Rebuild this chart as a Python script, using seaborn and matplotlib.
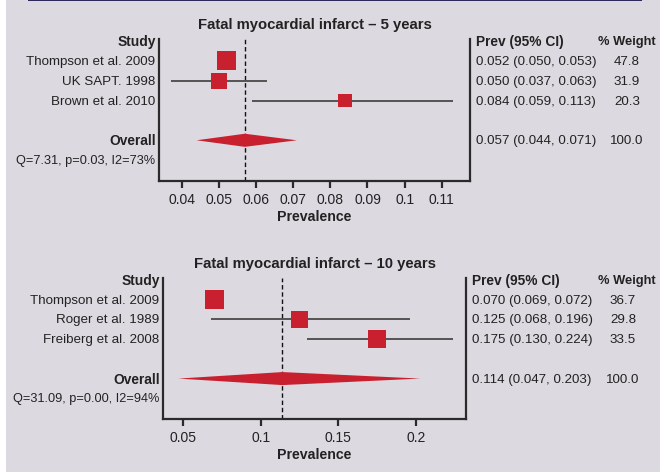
import numpy as np
import pandas as pd
import matplotlib
matplotlib.use("Agg")
import matplotlib.pyplot as plt
import matplotlib.transforms as mtransforms
from matplotlib.patches import Rectangle
import seaborn as sns

# ---------------- data ----------------
title_5 = "Fatal myocardial infarct \u2013 5 years"
studies_5 = ["Thompson et al. 2009", "UK SAPT. 1998", "Brown et al. 2010"]
prev_5 = [0.052, 0.050, 0.084]
lo_5 = [0.050, 0.037, 0.059]
hi_5 = [0.053, 0.063, 0.113]
weight_5 = [47.8, 31.9, 20.3]
overall_5 = [0.057, 0.044, 0.071]
stats_5 = "Q=7.31, p=0.03, I2=73%"
ticks_5 = [0.04, 0.05, 0.06, 0.07, 0.08, 0.09, 0.1, 0.11]
ticklabels_5 = ["0.04", "0.05", "0.06", "0.07", "0.08", "0.09", "0.1", "0.11"]

title_10 = "Fatal myocardial infarct \u2013 10 years"
studies_10 = ["Thompson et al. 2009", "Roger et al. 1989", "Freiberg et al. 2008"]
prev_10 = [0.070, 0.125, 0.175]
lo_10 = [0.069, 0.068, 0.130]
hi_10 = [0.072, 0.196, 0.224]
weight_10 = [36.7, 29.8, 33.5]
overall_10 = [0.114, 0.047, 0.203]
stats_10 = "Q=31.09, p=0.00, I2=94%"
ticks_10 = [0.05, 0.1, 0.15, 0.2]
ticklabels_10 = ["0.05", "0.1", "0.15", "0.2"]

# ---------------- style ----------------
sns.set_theme(style="white")
FONT = ["Liberation Sans", "DejaVu Sans"]
plt.rcParams["font.family"] = FONT
BG = "#dcd9e0"
RED = "#c8202e"
DARK = "#2a2a2a"
TXT = "#222222"

W, H = 660, 477
fig = plt.figure(figsize=(W / 100, H / 100), dpi=100)
fig.patch.set_facecolor("white")
# background panel and top rule
fig.add_artist(Rectangle((6 / W, 4 / H), (W - 6) / W, (H - 4) / H,
                         transform=fig.transFigure, facecolor=BG,
                         edgecolor="none", zorder=-10))
fig.add_artist(Rectangle((28 / W, 1 - 1.6 / H), (642 - 28) / W, 1.6 / H,
                         transform=fig.transFigure, facecolor="#2e2a5c",
                         edgecolor="none", zorder=-9))

FS = 9.6


def panel(rect_px, xlim, title, studies, prev, lo, hi, weight, overall,
          stats, ticks, ticklabels):
    x0, y0, x1, y1 = rect_px
    ax = fig.add_axes([x0 / W, 1 - y1 / H, (x1 - x0) / W, (y1 - y0) / H])
    ax.set_facecolor("none")
    n = len(studies)
    rows = list(range(1, n + 1))
    over_row = n + 2
    stats_row = n + 3
    df = pd.DataFrame({"study": studies, "prev": prev, "lo": lo, "hi": hi,
                       "weight": weight, "row": rows})
    # CI lines
    ax.hlines(df["row"], df["lo"], df["hi"], color="#4a4a4a", lw=1.3, zorder=2)
    # squares sized by relative weight
    wrel = df["weight"] / df["weight"].max()
    side_px = 9.5 + 9.5 * wrel
    side_pt = side_px * 0.72
    sns.scatterplot(data=df, x="prev", y="row", marker="s", color=RED,
                    s=(side_pt ** 2).to_numpy(), linewidth=0, ax=ax,
                    zorder=3, legend=False)
    # overall diamond
    est, olo, ohi = overall
    hh = 0.33
    ax.fill([olo, est, ohi, est], [over_row, over_row - hh, over_row, over_row + hh],
            color=RED, lw=0, zorder=3)
    ax.axvline(est, color="#111111", lw=1.0, ls=(0, (3.2, 2.0)), zorder=1)

    ax.set_xlim(*xlim)
    ax.set_ylim(7.05, -0.1)
    ax.set_yticks([])
    ax.set_xticks(ticks)
    ax.set_xticklabels(ticklabels)
    ax.set_xlabel("Prevalence", fontsize=FS + 0.6, fontweight="bold",
                  color=TXT, labelpad=2)
    ax.set_ylabel("")
    ax.tick_params(axis="x", direction="out", length=5, width=1.6,
                   color=DARK, labelsize=FS + 0.4, labelcolor=TXT, pad=3,
                   bottom=True)
    for s in ["left", "bottom", "right"]:
        ax.spines[s].set_visible(True)
        ax.spines[s].set_color(DARK)
        ax.spines[s].set_linewidth(1.6)
    ax.spines["top"].set_visible(False)

    ax.set_title(title, fontsize=FS + 1.1, fontweight="bold", color=TXT, pad=8)

    tr = mtransforms.blended_transform_factory(fig.transFigure, ax.transData)
    lx = (x0 - 3.5) / W
    px = (x1 + 5.5) / W
    wx = (x1 + 157) / W
    ax.text(lx, 0.0, "Study", transform=tr, ha="right", va="center",
            fontsize=FS + 0.3, fontweight="bold", color=TXT)
    ax.text(px, 0.0, "Prev (95% CI)", transform=tr, ha="left", va="center",
            fontsize=FS + 0.3, fontweight="bold", color=TXT)
    ax.text(656 / W, 0.0, "% Weight", transform=tr, ha="right", va="center",
            fontsize=FS - 0.3, fontweight="bold", color=TXT)
    for r, s, p, l, h, w in zip(rows, studies, prev, lo, hi, weight):
        ax.text(lx, r, s, transform=tr, ha="right", va="center",
                fontsize=FS, color=TXT)
        ax.text(px, r, f"{p:.3f} ({l:.3f}, {h:.3f})", transform=tr,
                ha="left", va="center", fontsize=FS, color=TXT)
        ax.text(wx, r, f"{w:.1f}", transform=tr, ha="center", va="center",
                fontsize=FS, color=TXT)
    ax.text(lx, over_row, "Overall", transform=tr, ha="right", va="center",
            fontsize=FS + 0.3, fontweight="bold", color=TXT)
    ax.text(px, over_row, f"{est:.3f} ({olo:.3f}, {ohi:.3f})", transform=tr,
            ha="left", va="center", fontsize=FS, color=TXT)
    ax.text(wx, over_row, "100.0", transform=tr, ha="center", va="center",
            fontsize=FS, color=TXT)
    ax.text(lx, stats_row, stats, transform=tr, ha="right", va="center",
            fontsize=FS - 0.4, color=TXT)
    return ax


panel((159, 40, 470, 182), (0.0339, 0.1176), title_5, studies_5, prev_5,
      lo_5, hi_5, weight_5, overall_5, stats_5, ticks_5, ticklabels_5)
panel((163, 279, 466, 420), (0.0371, 0.2324), title_10, studies_10, prev_10,
      lo_10, hi_10, weight_10, overall_10, stats_10, ticks_10, ticklabels_10)

fig.savefig("out.png", dpi=100, facecolor=fig.get_facecolor())
